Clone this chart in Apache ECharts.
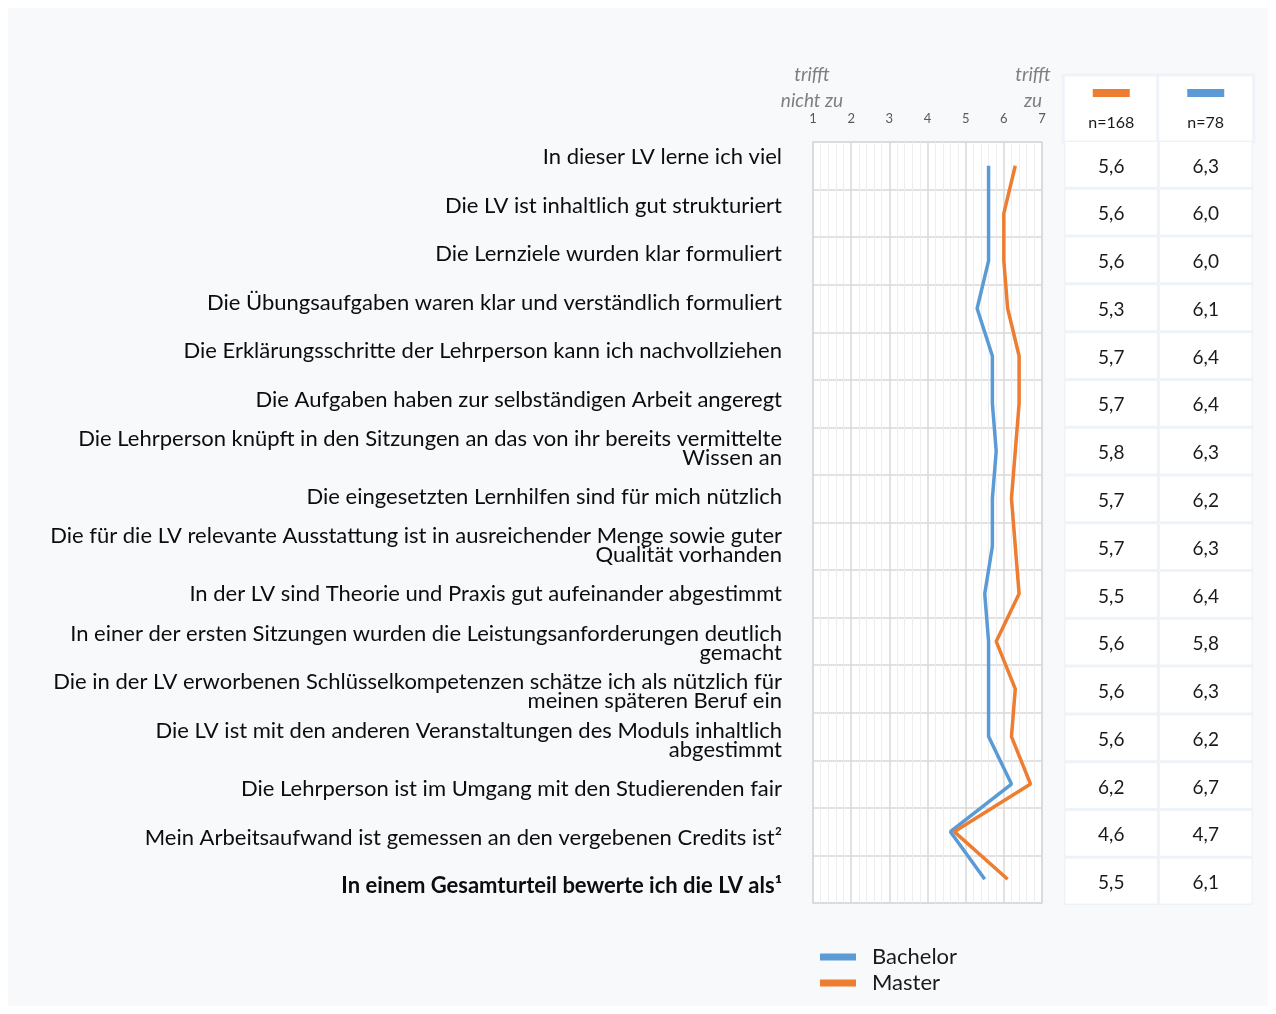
<!DOCTYPE html>
<html>
<head>
<meta charset="utf-8">
<script src="https://cdn.jsdelivr.net/npm/echarts@6/dist/echarts.min.js"></script>
<style>
  html, body { margin: 0; padding: 0; background: #ffffff; }
  #container { position: absolute; left: 8px; top: 8px; width: 1260px; height: 998px; }
</style>
</head>
<body>
<div id="container"></div>
<script>
var statements = [
    'In dieser LV lerne ich viel',
    'Die LV ist inhaltlich gut strukturiert',
    'Die Lernziele wurden klar formuliert',
    'Die Übungsaufgaben waren klar und verständlich formuliert',
    'Die Erklärungsschritte der Lehrperson kann ich nachvollziehen',
    'Die Aufgaben haben zur selbständigen Arbeit angeregt',
    'Die Lehrperson knüpft in den Sitzungen an das von ihr bereits vermittelte\nWissen an',
    'Die eingesetzten Lernhilfen sind für mich nützlich',
    'Die für die LV relevante Ausstattung ist in ausreichender Menge sowie guter\nQualität vorhanden',
    'In der LV sind Theorie und Praxis gut aufeinander abgestimmt',
    'In einer der ersten Sitzungen wurden die Leistungsanforderungen deutlich\ngemacht',
    'Die in der LV erworbenen Schlüsselkompetenzen schätze ich als nützlich für\nmeinen späteren Beruf ein',
    'Die LV ist mit den anderen Veranstaltungen des Moduls inhaltlich\nabgestimmt',
    'Die Lehrperson ist im Umgang mit den Studierenden fair',
    'Mein Arbeitsaufwand ist gemessen an den vergebenen Credits ist²',
    'In einem Gesamturteil bewerte ich die LV als¹'
];
var bachelor = [5.6, 5.6, 5.6, 5.3, 5.7, 5.7, 5.8, 5.7, 5.7, 5.5, 5.6, 5.6, 5.6, 6.2, 4.6, 5.5];
var master = [6.3, 6.0, 6.0, 6.1, 6.4, 6.4, 6.3, 6.2, 6.3, 6.4, 5.8, 6.3, 6.2, 6.7, 4.7, 6.1];
var tableHeads = ['n=168', 'n=78'];
var scaleTicks = ['1', '2', '3', '4', '5', '6', '7'];

var BLUE = '#5B9BD5';
var ORANGE = '#ED7D31';
var FONT = 'Lato, "Open Sans", sans-serif';

var dom = document.getElementById('container');
var myChart = echarts.init(dom, null, { renderer: 'canvas' });

// table cells: [column, row, value]
var tableData = [];
[bachelor, master].forEach(function (col, ci) {
    col.forEach(function (v, ri) {
        tableData.push([ci, ri, v]);
    });
});

// the original labels sit on a slightly wider spacing than the rows,
// so nudge each one a little (negative = up)
var labelRich = {};
statements.forEach(function (s, i) {
    var shift = -8.8 + 1.04 * i;
    var pad = shift < 0 ? [0, 0, -2 * shift, 0] : [2 * shift, 0, 0, 0];
    labelRich['r' + i] = {
        fontSize: 22, lineHeight: 19, color: '#0d0d0d', fontFamily: FONT,
        fontWeight: i === statements.length - 1 ? 'bold' : 'normal',
        padding: pad
    };
});

var option = {
    backgroundColor: '#f8f9fb',
    animation: false,
    textStyle: { fontFamily: FONT },
    title: [
        {
            text: 'trifft\nnicht zu',
            left: 804, top: 54, padding: 0,
            textAlign: 'center',
            textStyle: { fontFamily: FONT, fontStyle: 'italic', fontWeight: 'normal', fontSize: 19, lineHeight: 26, color: '#7f7f7f' }
        },
        {
            text: 'trifft\nzu',
            left: 1025, top: 54, padding: 0,
            textAlign: 'center',
            textStyle: { fontFamily: FONT, fontStyle: 'italic', fontWeight: 'normal', fontSize: 19, lineHeight: 26, color: '#7f7f7f' }
        }
    ],
    legend: {
        orient: 'vertical',
        left: 812, top: 936,
        padding: 0,
        itemGap: 0,
        itemWidth: 36, itemHeight: 7,
        icon: 'rect',
        data: ['Bachelor', 'Master'],
        textStyle: { fontFamily: FONT, fontSize: 22, lineHeight: 26, color: '#1a1a1a', padding: [0, 0, 0, 11] }
    },
    grid: [
        { left: 805, top: 134, width: 229, height: 761, show: true, backgroundColor: '#ffffff', borderColor: '#d9d9d9', borderWidth: 1.5 },
        { left: 1056, top: 132.5, width: 189, height: 764.5, show: true, backgroundColor: '#eef3fa', borderWidth: 0 }
    ],
    xAxis: [
        {
            gridIndex: 0,
            type: 'value',
            position: 'top',
            min: 1, max: 7, interval: 1,
            axisLine: { show: false },
            axisTick: { show: false },
            axisLabel: {
                margin: 17, fontSize: 13, color: '#595959', fontFamily: FONT,
                formatter: function (v) { return scaleTicks[v - 1]; }
            },
            splitLine: { show: true, lineStyle: { color: '#d9d9d9', width: 1.5 } },
            minorTick: { show: false, splitNumber: 5 },
            minorSplitLine: { show: true, lineStyle: { color: '#eeeeee', width: 1 } }
        },
        {
            gridIndex: 1,
            type: 'category',
            position: 'top',
            data: tableHeads,
            axisLine: { show: false },
            axisTick: { show: false },
            axisLabel: {
                margin: 0,
                interval: 0,
                backgroundColor: '#ffffff',
                borderColor: '#eef3fa',
                borderWidth: 3,
                width: 93,
                align: 'center',
                verticalAlign: 'bottom',
                padding: [12.5, 0, 7.5, 0],
                formatter: function (v, i) {
                    return '{m' + i + '|}\n{s|}\n{n|' + v + '}';
                },
                rich: {
                    m0: { width: 37, height: 8, lineHeight: 8, backgroundColor: ORANGE, align: 'center' },
                    m1: { width: 37, height: 8, lineHeight: 8, backgroundColor: BLUE, align: 'center' },
                    s: { lineHeight: 16, fontSize: 1 },
                    n: { fontSize: 16, lineHeight: 20, color: '#1a1a1a', fontFamily: FONT, align: 'center' }
                }
            }
        }
    ],
    yAxis: [
        {
            gridIndex: 0,
            type: 'category',
            inverse: true,
            data: statements,
            axisLine: { show: false },
            axisTick: { show: false },
            splitLine: { show: true, lineStyle: { color: '#d9d9d9', width: 1.5 } },
            axisLabel: {
                margin: 31,
                interval: 0,
                fontSize: 22,
                lineHeight: 19,
                color: '#0d0d0d',
                fontFamily: FONT,
                formatter: function (v, i) {
                    return v.split('\n').map(function (line) {
                        return '{r' + i + '|' + line + '}';
                    }).join('\n');
                },
                rich: labelRich
            }
        },
        {
            gridIndex: 1,
            type: 'category',
            inverse: true,
            data: statements,
            show: false
        }
    ],
    series: [
        {
            name: 'Bachelor',
            type: 'line',
            xAxisIndex: 0, yAxisIndex: 0,
            data: bachelor,
            showSymbol: false,
            symbol: 'none',
            color: BLUE,
            lineStyle: { width: 3.5, color: BLUE }
        },
        {
            name: 'Master',
            type: 'line',
            xAxisIndex: 0, yAxisIndex: 0,
            data: master,
            showSymbol: false,
            symbol: 'none',
            color: ORANGE,
            lineStyle: { width: 3.5, color: ORANGE }
        },
        {
            type: 'custom',
            xAxisIndex: 1, yAxisIndex: 1,
            data: tableData,
            renderItem: function (params, api) {
                var c = api.coord([api.value(0), api.value(1)]);
                var s = api.size([1, 1]);
                var txt = api.value(2).toFixed(1).replace('.', ',');
                return {
                    type: 'group',
                    children: [
                        {
                            type: 'rect',
                            shape: { x: c[0] - s[0] / 2 + 1.5, y: c[1] - s[1] / 2 + 1.5, width: s[0] - 3, height: s[1] - 3 },
                            style: { fill: '#ffffff' }
                        },
                        {
                            type: 'text',
                            x: c[0], y: c[1] + 2,
                            style: { text: txt, fontSize: 19, fontFamily: FONT, fill: '#1a1a1a', align: 'center', verticalAlign: 'middle' }
                        }
                    ]
                };
            }
        }
    ]
};

myChart.setOption(option);
window.addEventListener('resize', myChart.resize);
</script>
</body>
</html>
